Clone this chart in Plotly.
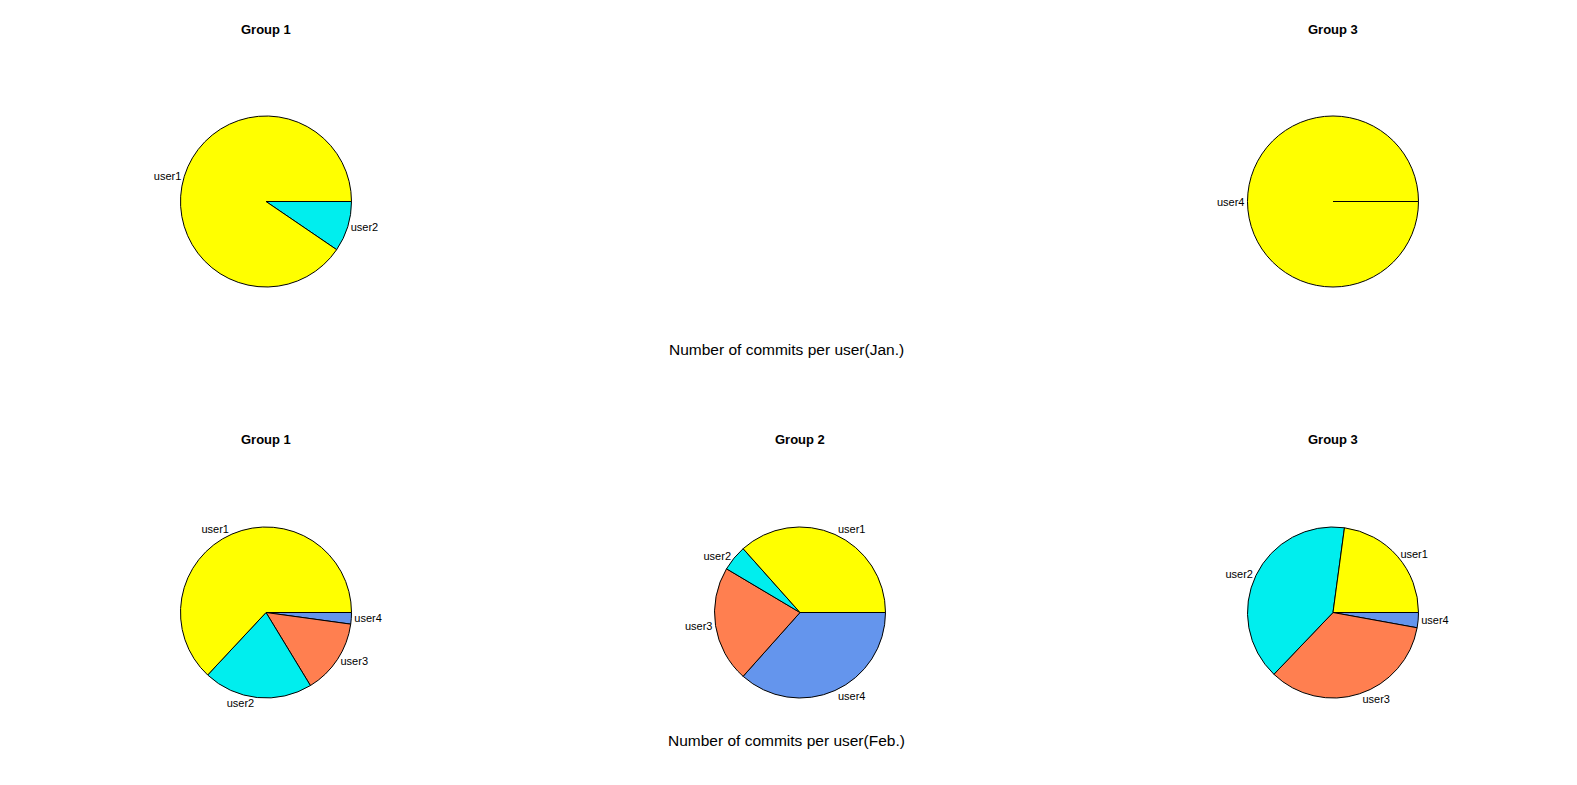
import plotly.graph_objects as go

# page is offset by the default 8px body margin; figure sized to fit
OFF = 8
W, H = 1577 - 2 * OFF, 785 - 2 * OFF

palette = ["#FFFF00", "#00EEEE", "#FF7F50", "#6495ED"]

jan_g1_labels = ["user1", "user2"]
jan_g1_values = [19, 2]
jan_g3_labels = ["user4"]
jan_g3_values = [12]

feb_g1_labels = ["user1", "user2", "user3", "user4"]
feb_g1_values = [58, 19, 13, 2]
feb_g2_labels = ["user1", "user2", "user3", "user4"]
feb_g2_values = [15, 2, 9, 15]
feb_g3_labels = ["user1", "user2", "user3", "user4"]
feb_g3_values = [8, 14, 12, 1]

group_titles = ["Group 1", "Group 2", "Group 3"]
main_titles = ["Number of commits per user(Jan.)", "Number of commits per user(Feb.)"]

# layout geometry (page pixels)
col_cx = [266, 800, 1333]
row_cy = [201.5, 612.5]
R = 85.5
title_y = [30, 439]
main_y = [349, 740]
main_x = 786

FONT = "Arial, Liberation Sans, sans-serif"


def px(x):
    return (x - OFF) / W


def py(y):
    return 1 - (y - OFF) / H


def dom(cx, cy):
    return dict(x=[px(cx - R), px(cx + R)], y=[py(cy + R), py(cy - R)])


fig = go.Figure()


def add_pie(labels, values, col, row):
    cols = palette[:len(labels)]
    # R draws counter-clockwise from 3 o'clock; same as clockwise from 3 o'clock in reverse order
    fig.add_trace(go.Pie(
        labels=labels[::-1], values=values[::-1], sort=False, direction="clockwise",
        rotation=90, textinfo="label", textposition="outside",
        marker=dict(colors=cols[::-1], line=dict(color="black", width=1)),
        outsidetextfont=dict(family=FONT, size=11, color="black"),
        domain=dom(col_cx[col], row_cy[row]), showlegend=False, hoverinfo="label+value+percent",
    ))


add_pie(jan_g1_labels, jan_g1_values, 0, 0)
add_pie(jan_g3_labels, jan_g3_values, 2, 0)
add_pie(feb_g1_labels, feb_g1_values, 0, 1)
add_pie(feb_g2_labels, feb_g2_values, 1, 1)
add_pie(feb_g3_labels, feb_g3_values, 2, 1)

annotations = []
for row, cols in enumerate([[0, 2], [0, 1, 2]]):
    for c in cols:
        annotations.append(dict(text="<b>" + group_titles[c] + "</b>", x=px(col_cx[c]), y=py(title_y[row]),
                                xref="paper", yref="paper", showarrow=False, xanchor="center", yanchor="middle",
                                font=dict(family=FONT, size=13, color="black")))
    annotations.append(dict(text=main_titles[row], x=px(main_x), y=py(main_y[row]),
                            xref="paper", yref="paper", showarrow=False, xanchor="center", yanchor="middle",
                            font=dict(family=FONT, size=15.5, color="black")))

# start border of the single full slice (Jan, Group 3)
cx, cy = col_cx[2], row_cy[0]
shapes = [dict(type="line", xref="paper", yref="paper", x0=px(cx), y0=py(cy), x1=px(cx + R), y1=py(cy),
               line=dict(color="black", width=1))]

fig.update_layout(width=W, height=H, margin=dict(l=0, r=0, t=0, b=0), paper_bgcolor="white",
                  plot_bgcolor="white", annotations=annotations, shapes=shapes)
fig.write_html("out.html")
